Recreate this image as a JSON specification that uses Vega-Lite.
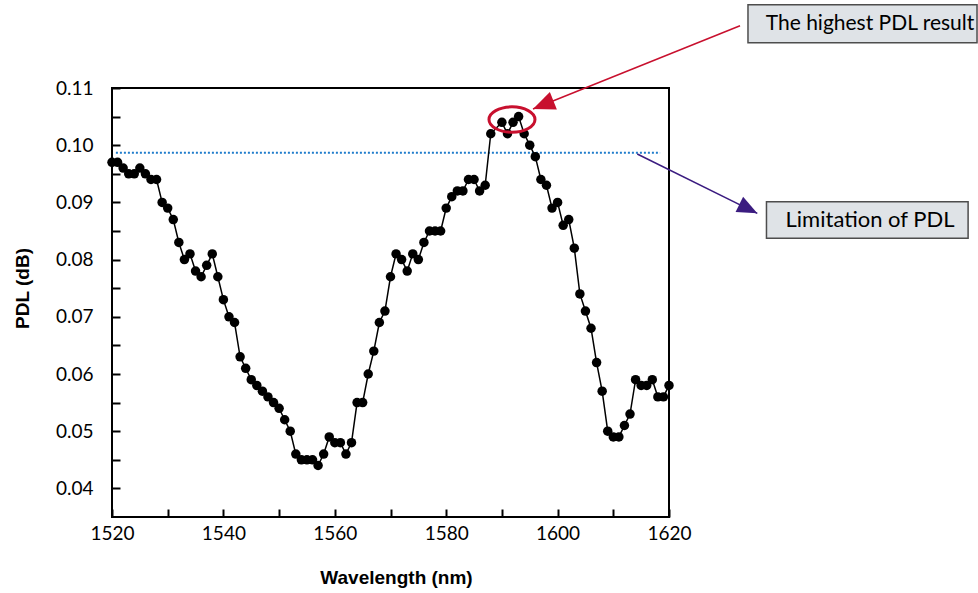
{
  "$schema": "https://vega.github.io/schema/vega-lite/v6.json",
  "width": 557,
  "height": 429,
  "autosize": "none",
  "padding": {"left": 112, "top": 88, "right": 309, "bottom": 76},
  "background": "white",
  "config": {
    "view": {"stroke": "black", "strokeWidth": 2},
    "axis": {
      "labelFont": "Lato", "labelFontSize": 19, "labelColor": "black",
      "titleFont": "Liberation Sans", "titleFontSize": 19, "titleFontWeight": "bold", "titleColor": "black",
      "domain": false, "grid": false, "tickColor": "black", "tickWidth": 2, "tickSize": -8,
      "labelOverlap": false, "labelFlush": false
    }
  },
  "datasets": {
    "pdl": [
      {"wl": 1520, "pdl": 0.097}, {"wl": 1521, "pdl": 0.097}, {"wl": 1522, "pdl": 0.096}, {"wl": 1523, "pdl": 0.095},
      {"wl": 1524, "pdl": 0.095}, {"wl": 1525, "pdl": 0.096}, {"wl": 1526, "pdl": 0.095}, {"wl": 1527, "pdl": 0.094},
      {"wl": 1528, "pdl": 0.094}, {"wl": 1529, "pdl": 0.090}, {"wl": 1530, "pdl": 0.089}, {"wl": 1531, "pdl": 0.087},
      {"wl": 1532, "pdl": 0.083}, {"wl": 1533, "pdl": 0.080}, {"wl": 1534, "pdl": 0.081}, {"wl": 1535, "pdl": 0.078},
      {"wl": 1536, "pdl": 0.077}, {"wl": 1537, "pdl": 0.079}, {"wl": 1538, "pdl": 0.081}, {"wl": 1539, "pdl": 0.077},
      {"wl": 1540, "pdl": 0.073}, {"wl": 1541, "pdl": 0.070}, {"wl": 1542, "pdl": 0.069}, {"wl": 1543, "pdl": 0.063},
      {"wl": 1544, "pdl": 0.061}, {"wl": 1545, "pdl": 0.059}, {"wl": 1546, "pdl": 0.058}, {"wl": 1547, "pdl": 0.057},
      {"wl": 1548, "pdl": 0.056}, {"wl": 1549, "pdl": 0.055}, {"wl": 1550, "pdl": 0.054}, {"wl": 1551, "pdl": 0.052},
      {"wl": 1552, "pdl": 0.050}, {"wl": 1553, "pdl": 0.046}, {"wl": 1554, "pdl": 0.045}, {"wl": 1555, "pdl": 0.045},
      {"wl": 1556, "pdl": 0.045}, {"wl": 1557, "pdl": 0.044}, {"wl": 1558, "pdl": 0.046}, {"wl": 1559, "pdl": 0.049},
      {"wl": 1560, "pdl": 0.048}, {"wl": 1561, "pdl": 0.048}, {"wl": 1562, "pdl": 0.046}, {"wl": 1563, "pdl": 0.048},
      {"wl": 1564, "pdl": 0.055}, {"wl": 1565, "pdl": 0.055}, {"wl": 1566, "pdl": 0.060}, {"wl": 1567, "pdl": 0.064},
      {"wl": 1568, "pdl": 0.069}, {"wl": 1569, "pdl": 0.071}, {"wl": 1570, "pdl": 0.077}, {"wl": 1571, "pdl": 0.081},
      {"wl": 1572, "pdl": 0.080}, {"wl": 1573, "pdl": 0.078}, {"wl": 1574, "pdl": 0.081}, {"wl": 1575, "pdl": 0.080},
      {"wl": 1576, "pdl": 0.083}, {"wl": 1577, "pdl": 0.085}, {"wl": 1578, "pdl": 0.085}, {"wl": 1579, "pdl": 0.085},
      {"wl": 1580, "pdl": 0.089}, {"wl": 1581, "pdl": 0.091}, {"wl": 1582, "pdl": 0.092}, {"wl": 1583, "pdl": 0.092},
      {"wl": 1584, "pdl": 0.094}, {"wl": 1585, "pdl": 0.094}, {"wl": 1586, "pdl": 0.092}, {"wl": 1587, "pdl": 0.093},
      {"wl": 1588, "pdl": 0.102}, {"wl": 1590, "pdl": 0.104}, {"wl": 1591, "pdl": 0.102}, {"wl": 1592, "pdl": 0.104},
      {"wl": 1593, "pdl": 0.105}, {"wl": 1594, "pdl": 0.102}, {"wl": 1595, "pdl": 0.100}, {"wl": 1596, "pdl": 0.098},
      {"wl": 1597, "pdl": 0.094}, {"wl": 1598, "pdl": 0.093}, {"wl": 1599, "pdl": 0.089}, {"wl": 1600, "pdl": 0.090},
      {"wl": 1601, "pdl": 0.086}, {"wl": 1602, "pdl": 0.087}, {"wl": 1603, "pdl": 0.082}, {"wl": 1604, "pdl": 0.074},
      {"wl": 1605, "pdl": 0.071}, {"wl": 1606, "pdl": 0.068}, {"wl": 1607, "pdl": 0.062}, {"wl": 1608, "pdl": 0.057},
      {"wl": 1609, "pdl": 0.050}, {"wl": 1610, "pdl": 0.049}, {"wl": 1611, "pdl": 0.049}, {"wl": 1612, "pdl": 0.051},
      {"wl": 1613, "pdl": 0.053}, {"wl": 1614, "pdl": 0.059}, {"wl": 1615, "pdl": 0.058}, {"wl": 1616, "pdl": 0.058},
      {"wl": 1617, "pdl": 0.059}, {"wl": 1618, "pdl": 0.056}, {"wl": 1619, "pdl": 0.056}, {"wl": 1620, "pdl": 0.058}
    ],
    "limit": [{"wl": 1520.7, "wl2": 1618.4, "pdl": 0.0987}],
    "redArrow": [{"wl": 1632.75, "pdl": 0.12089, "wl2": 1595.58, "pdl2": 0.10633}],
    "redHead": [{"wl": 1595.58, "pdl": 0.10633}],
    "purpleArrow": [{"wl": 1614.3, "pdl": 0.09846, "wl2": 1635.85, "pdl2": 0.08809}],
    "purpleHead": [{"wl": 1635.85, "pdl": 0.08809}],
    "highlight": [{"wl": 1591.81, "pdl": 0.10449}],
    "boxes": [
      {"wl": 1634.18, "wl2": 1675.3, "pdl": 0.12456, "pdl2": 0.11792},
      {"wl": 1637.5, "wl2": 1673.7, "pdl": 0.09012, "pdl2": 0.08372}
    ],
    "labels": [
      {"wl": 1656.09, "pdl": 0.12124, "label": "The highest PDL result", "fs": 21},
      {"wl": 1656.09, "pdl": 0.08692, "label": "Limitation of PDL", "fs": 22}
    ]
  },
  "encoding": {
    "x": {"field": "wl", "type": "quantitative",
          "scale": {"domain": [1520, 1620], "nice": false, "zero": false},
          "axis": {"title": "Wavelength (nm)",
                   "values": [1520, 1530, 1540, 1550, 1560, 1570, 1580, 1590, 1600, 1610, 1620],
                   "labelExpr": "datum.value % 20 == 0 ? format(datum.value, 'd') : ''",
                   "labelPadding": 15,
                   "titleX": 284, "titleY": 66, "titleAlign": "center", "titleBaseline": "alphabetic"}},
    "y": {"field": "pdl", "type": "quantitative",
          "scale": {"domain": [0.035, 0.11], "nice": false, "zero": false},
          "axis": {"title": "PDL (dB)",
                   "values": [0.04, 0.045, 0.05, 0.055, 0.06, 0.065, 0.07, 0.075, 0.08, 0.085, 0.09, 0.095, 0.1, 0.105, 0.11],
                   "labelExpr": "abs(datum.value * 100 - round(datum.value * 100)) < 0.01 ? format(datum.value, '.2f') : ''",
                   "labelPadding": 27,
                   "titleX": -89.5, "titleY": 200, "titleAlign": "center", "titleBaseline": "middle", "titleAngle": -90}}
  },
  "layer": [
    {
      "data": {"name": "limit"},
      "mark": {"type": "rule", "color": "#1f7ccb", "strokeWidth": 2, "strokeDash": [2, 2]},
      "encoding": {"x2": {"field": "wl2"}}
    },
    {
      "data": {"name": "pdl"},
      "mark": {"type": "line", "color": "black", "strokeWidth": 1.5,
               "point": {"filled": true, "color": "black", "size": 90, "opacity": 1}}
    },
    {
      "data": {"name": "redArrow"},
      "mark": {"type": "rule", "color": "#c8102e", "strokeWidth": 1.5},
      "encoding": {"x2": {"field": "wl2"}, "y2": {"field": "pdl2"}}
    },
    {
      "data": {"name": "redHead"},
      "mark": {"type": "point", "shape": "M0,0L0.85,2L-0.85,2Z", "filled": true, "color": "#c8102e", "opacity": 1, "size": 484, "angle": 248}
    },
    {
      "data": {"name": "purpleArrow"},
      "mark": {"type": "rule", "color": "#3b1c80", "strokeWidth": 1.5},
      "encoding": {"x2": {"field": "wl2"}, "y2": {"field": "pdl2"}}
    },
    {
      "data": {"name": "purpleHead"},
      "mark": {"type": "point", "shape": "M0,0L0.85,2L-0.85,2Z", "filled": true, "color": "#3b1c80", "opacity": 1, "size": 400, "angle": 116.3}
    },
    {
      "data": {"name": "highlight"},
      "mark": {"type": "point", "shape": "M-1,0A1,0.55,0,1,1,1,0A1,0.55,0,1,1,-1,0Z", "filled": false, "stroke": "#c8102e", "strokeWidth": 3, "opacity": 1, "size": 2116}
    },
    {
      "data": {"name": "boxes"},
      "mark": {"type": "rect", "fill": "#dfe3e7", "stroke": "#4d4d4d", "strokeWidth": 1.5},
      "encoding": {"x2": {"field": "wl2"}, "y2": {"field": "pdl2"}}
    },
    {
      "data": {"name": "labels"},
      "mark": {"type": "text", "font": "Lato", "color": "black", "align": "center", "baseline": "middle"},
      "encoding": {"text": {"field": "label"}, "size": {"field": "fs", "type": "quantitative", "scale": null}}
    }
  ]
}
